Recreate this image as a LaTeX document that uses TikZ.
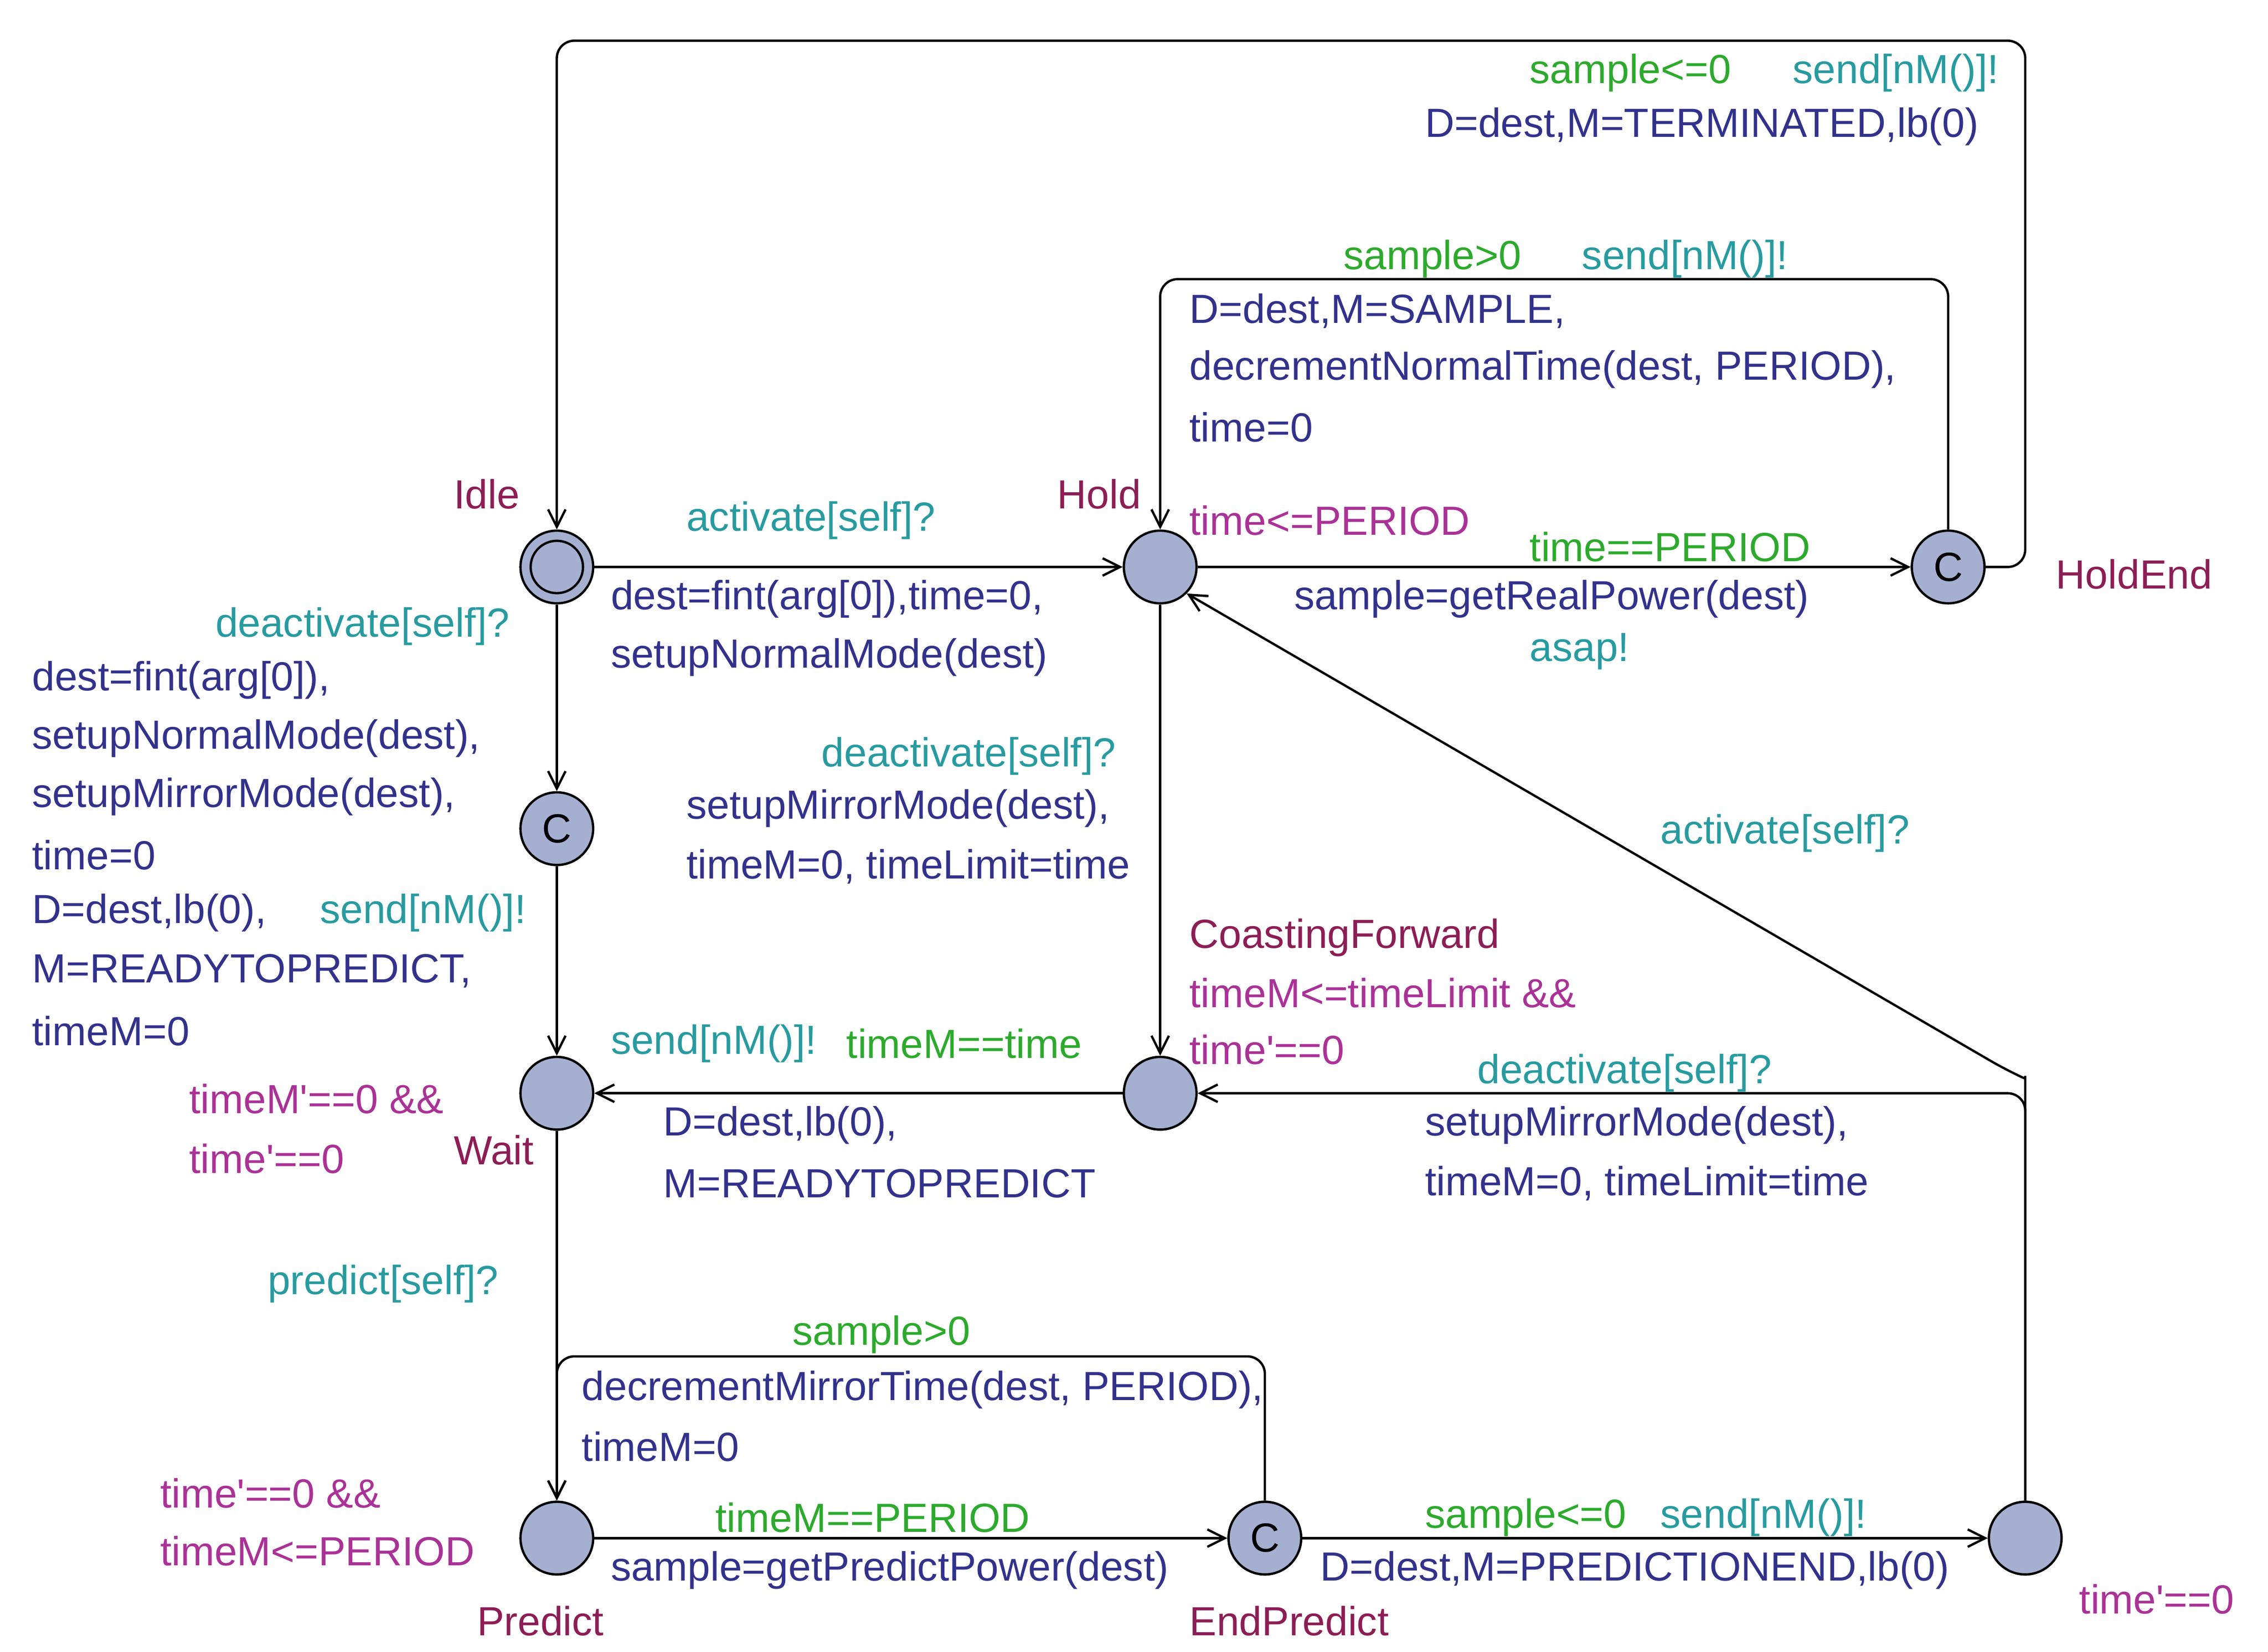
\documentclass[tikz,border=0pt]{standalone}
\usepackage{fontspec}
\setmainfont{Liberation Sans}
\usetikzlibrary{arrows.meta}
\definecolor{asg}{RGB}{50,50,140}
\definecolor{syn}{RGB}{40,155,160}
\definecolor{grd}{RGB}{45,170,45}
\definecolor{inv}{RGB}{170,50,150}
\definecolor{nam}{RGB}{140,30,85}
\definecolor{loc}{RGB}{165,175,208}
\newcommand\ap{\textquotesingle}
\begin{document}
\begin{tikzpicture}[x=1pt,y=-1pt,
  every node/.style={font=\fontsize{28}{32}\selectfont},
  st/.style={circle,draw,line width=1.6pt,fill=loc,minimum size=50pt,inner sep=0pt},
  t/.style={anchor=west,inner sep=0pt},
  a/.style={t,text=asg},s/.style={t,text=syn},g/.style={t,text=grd},i/.style={t,text=inv},n/.style={t,text=nam},
  e/.style={draw,line width=1.6pt,-{Straight Barb[length=12pt,width=12pt]},rounded corners=12pt}]
\useasboundingbox (0,0) rectangle (1560,1136);
\node[st] (idle) at (383,390) {};
\node[circle,draw,line width=1.6pt,minimum size=36pt] at (383,390) {};
\node[st] (hold) at (798,390) {};
\node[st] (he) at (1340,390) {C};
\node[st] (c1) at (383,570) {C};
\node[st] (wait) at (383,752) {};
\node[st] (cf) at (798,752) {};
\node[st] (pred) at (383,1058) {};
\node[st] (ep) at (870,1058) {C};
\node[st] (fin) at (1393,1058) {};
\coordinate (k1) at (1393,28); \coordinate (k2) at (383,28);
\draw[e] (idle) -- (hold);
\draw[e] (hold) -- (he);
\draw[e] (he.north) |- (798,192) -- (hold.north);
\draw[e] (he.east) -| (k1) -- (k2) -- (idle.north);
\draw[e] (idle) -- (c1);
\draw[e] (c1) -- (wait);
\draw[e] (hold) -- (cf);
\draw[e] (cf) -- (wait);
\draw[e] (wait) -- (pred);
\draw[e] (pred) -- (ep);
\draw[e] (ep) -- (fin);
\draw[e] (ep.north) |- (383,933) -- (pred.north);
\draw[e] (fin.north) |- (cf.east);
\draw[e] (fin.north) -- (1393,752) .. controls (1393,742) .. (1380,736) -- (hold.south east);
% labels
\node[g] at (1052,50) {sample<=0}; \node[s] at (1233,50) {send[nM()]!};
\node[a] at (980,87) {D=dest,M=TERMINATED,lb(0)};
\node[g] at (924,178) {sample>0}; \node[s] at (1088,178) {send[nM()]!};
\node[a] at (818,214) {D=dest,M=SAMPLE,};
\node[a] at (818,254) {decrementNormalTime(dest, PERIOD),};
\node[a] at (818,294) {time=0};
\node[n] at (312,340) {Idle}; \node[s] at (472,358) {activate[self]?};
\node[n] at (727,340) {Hold}; \node[i] at (818,358) {time<=PERIOD};
\node[g] at (1052,376) {time==PERIOD}; \node[n] at (1414,395) {HoldEnd};
\node[a] at (890,412) {sample=getRealPower(dest)}; \node[s] at (1052,448) {asap!};
\node[a] at (420,412) {dest=fint(arg[0]),time=0,}; \node[a] at (420,452) {setupNormalMode(dest)};
\node[s] at (148,431) {deactivate[self]?};
\node[a] at (22,468) {dest=fint(arg[0]),};
\node[a] at (22,508) {setupNormalMode(dest),};
\node[a] at (22,548) {setupMirrorMode(dest),};
\node[a] at (22,588) {time=0};
\node[a] at (22,628) {D=dest,lb(0),}; \node[s] at (220,628) {send[nM()]!};
\node[a] at (22,668) {M=READYTOPREDICT,};
\node[a] at (22,709) {timeM=0};
\node[s] at (565,520) {deactivate[self]?};
\node[a] at (472,556) {setupMirrorMode(dest),};
\node[a] at (472,596) {timeM=0, timeLimit=time};
\node[s] at (1142,573) {activate[self]?};
\node[n] at (818,645) {CoastingForward};
\node[i] at (818,683) {timeM<=timeLimit \&\&};
\node[i] at (818,722) {time\ap==0};
\node[s] at (420,718) {send[nM()]!}; \node[g] at (582,718) {timeM==time};
\node[a] at (456,774) {D=dest,lb(0),}; \node[a] at (456,814) {M=READYTOPREDICT};
\node[s] at (1016,738) {deactivate[self]?};
\node[a] at (980,774) {setupMirrorMode(dest),};
\node[a] at (980,814) {timeM=0, timeLimit=time};
\node[i] at (130,756) {timeM\ap==0 \&\&}; \node[i] at (130,797) {time\ap==0};
\node[n] at (312,791) {Wait};
\node[s] at (184,883) {predict[self]?};
\node[g] at (545,918) {sample>0};
\node[a] at (400,956) {decrementMirrorTime(dest, PERIOD),};
\node[a] at (400,995) {timeM=0};
\node[i] at (110,1027) {time\ap==0 \&\&}; \node[i] at (110,1067) {timeM<=PERIOD};
\node[n] at (328,1115) {Predict};
\node[g] at (492,1044) {timeM==PERIOD};
\node[a] at (420,1080) {sample=getPredictPower(dest)};
\node[n] at (818,1115) {EndPredict};
\node[g] at (980,1044) {sample<=0}; \node[s] at (1142,1044) {send[nM()]!};
\node[a] at (908,1080) {D=dest,M=PREDICTIONEND,lb(0)};
\node[i] at (1430,1100) {time\ap==0};
\end{tikzpicture}
\end{document}
